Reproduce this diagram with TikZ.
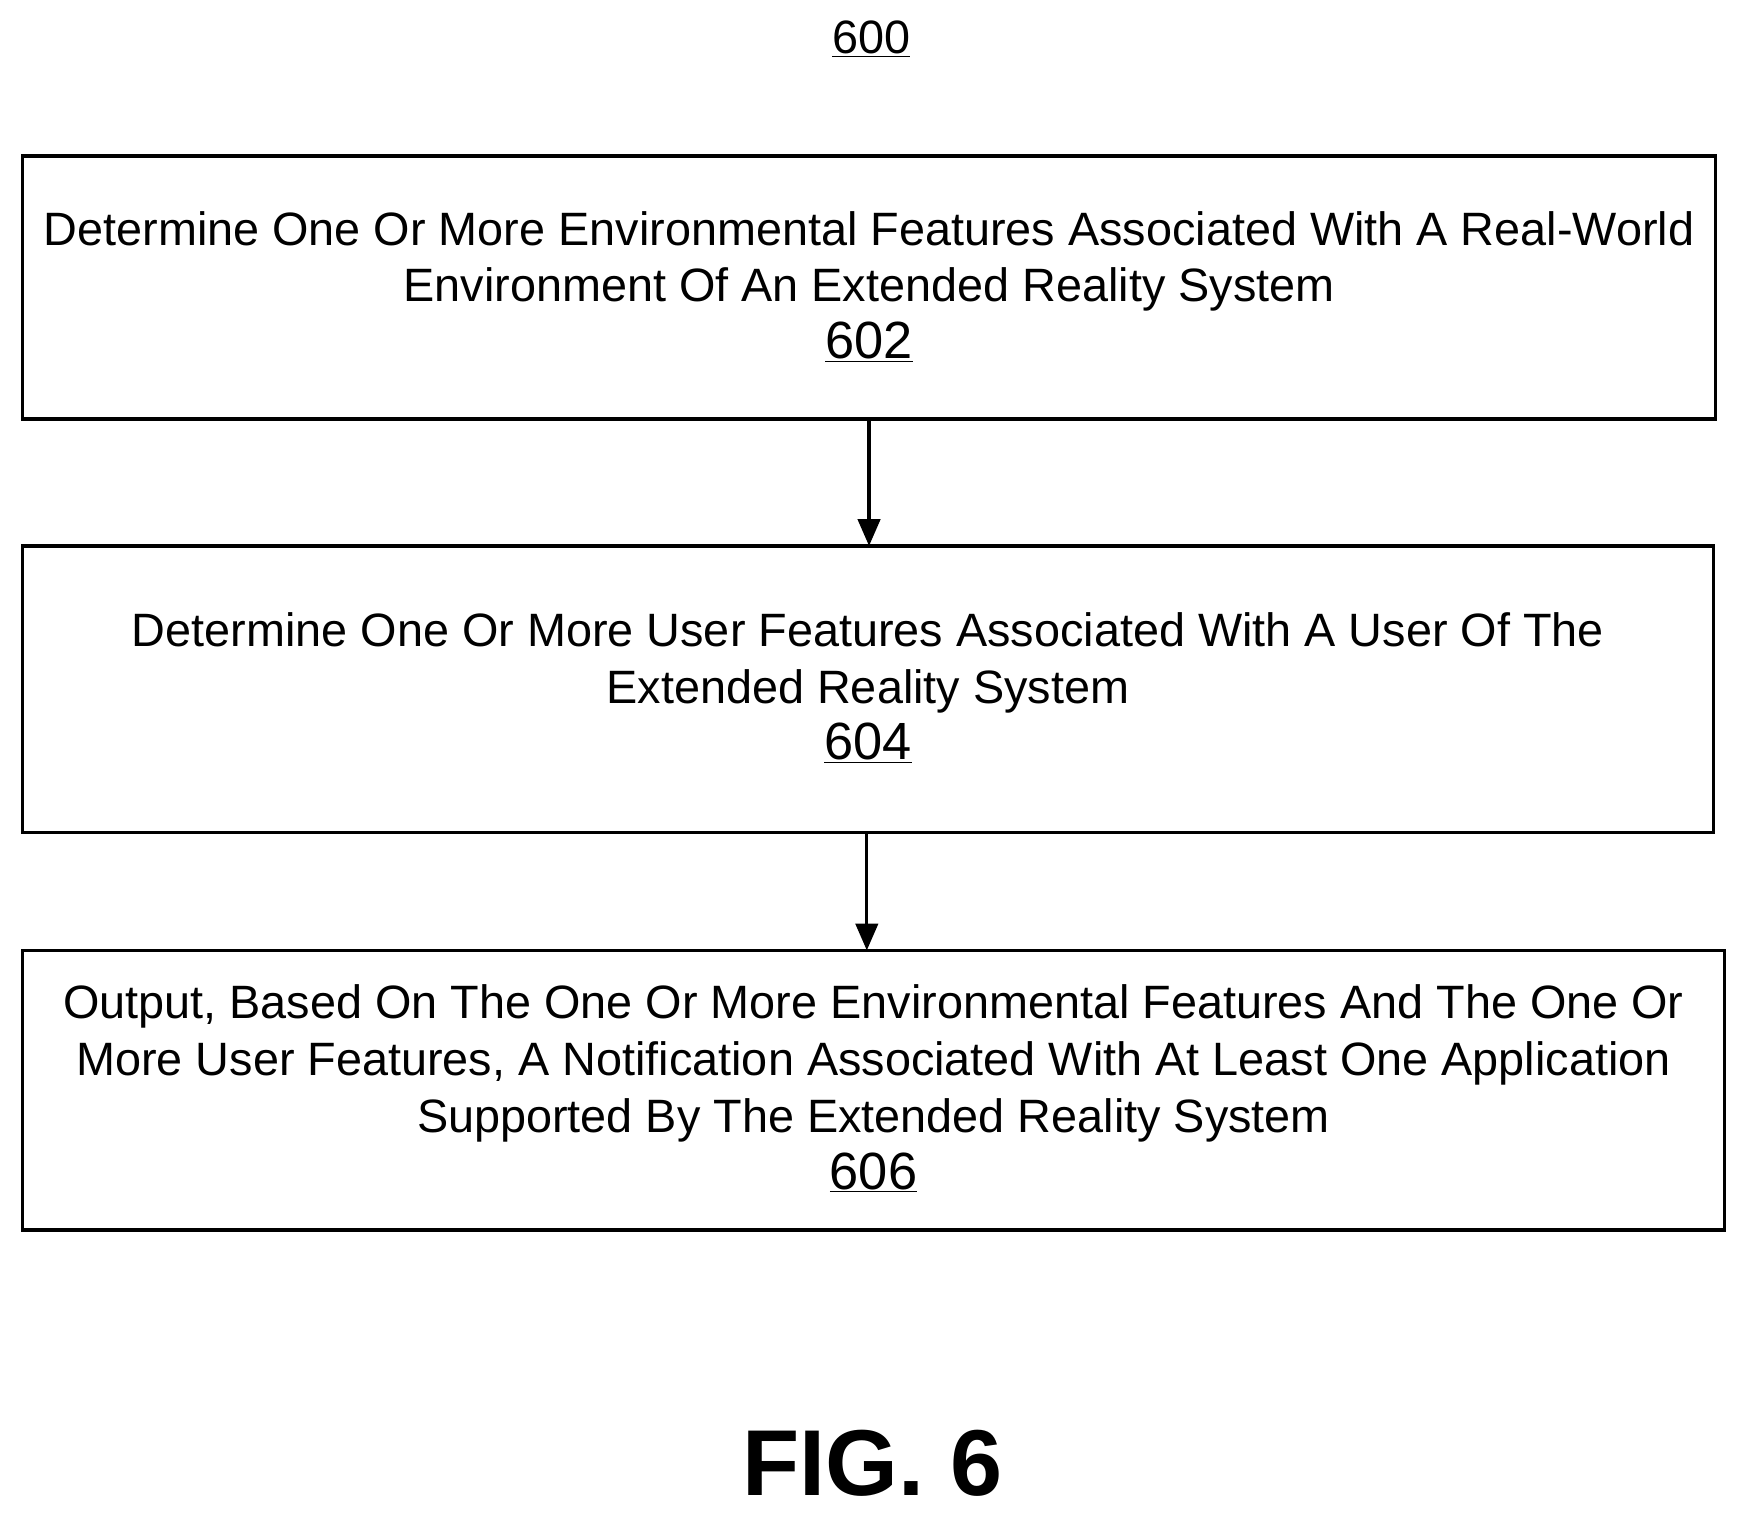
\documentclass[tikz,border=0pt]{standalone}
\usepackage{fontspec}
\setmainfont{Liberation Sans}
\usetikzlibrary{arrows.meta}
\begin{document}
\begin{tikzpicture}[x=1pt,y=-1pt,
  stepbox/.style={draw,line width=3pt,inner sep=0pt},
  txt/.style={align=center,font=\fontsize{42}{51}\selectfont},
  num/.style={font=\fontsize{47}{51}\selectfont},
  arr/.style={-{Triangle[length=24pt,width=20pt]},line width=3pt}]
\useasboundingbox (0,0) rectangle (1568,1362);
\node[font=\fontsize{42}{44}\selectfont] (t) at (782,35) {\underline{600}};
\draw[stepbox] (20,140) rectangle (1540,376);
\node[coordinate] (b1t) at (780,376) {};
\node[txt] (n1) at (780,257) {Determine One Or More Environmental Features Associated With A Real-World\\Environment Of An Extended Reality System\\{\fontsize{47}{51}\selectfont\underline{602}}};
\draw[stepbox] (20,490) rectangle (1538,747);
\node[coordinate] (b2t) at (780,490) {};
\node[coordinate] (b2b) at (778,747) {};
\node[txt] (n2) at (779,617) {Determine One Or More User Features Associated With A User Of The\\Extended Reality System\\{\fontsize{47}{51}\selectfont\underline{604}}};
\draw[stepbox] (20,853) rectangle (1548,1104);
\node[coordinate] (b3t) at (778,853) {};
\node[txt] (n3) at (784,977) {Output, Based On The One Or More Environmental Features And The One Or\\More User Features, A Notification Associated With At Least One Application\\Supported By The Extended Reality System\\{\fontsize{47}{51}\selectfont\underline{606}}};
\draw[arr] (b1t) -- (b2t);
\draw[arr] (b2b) -- (b3t);
\node[font=\bfseries\fontsize{84}{90}\selectfont] (fig) at (783,1313) {FIG. 6};
\end{tikzpicture}
\end{document}
